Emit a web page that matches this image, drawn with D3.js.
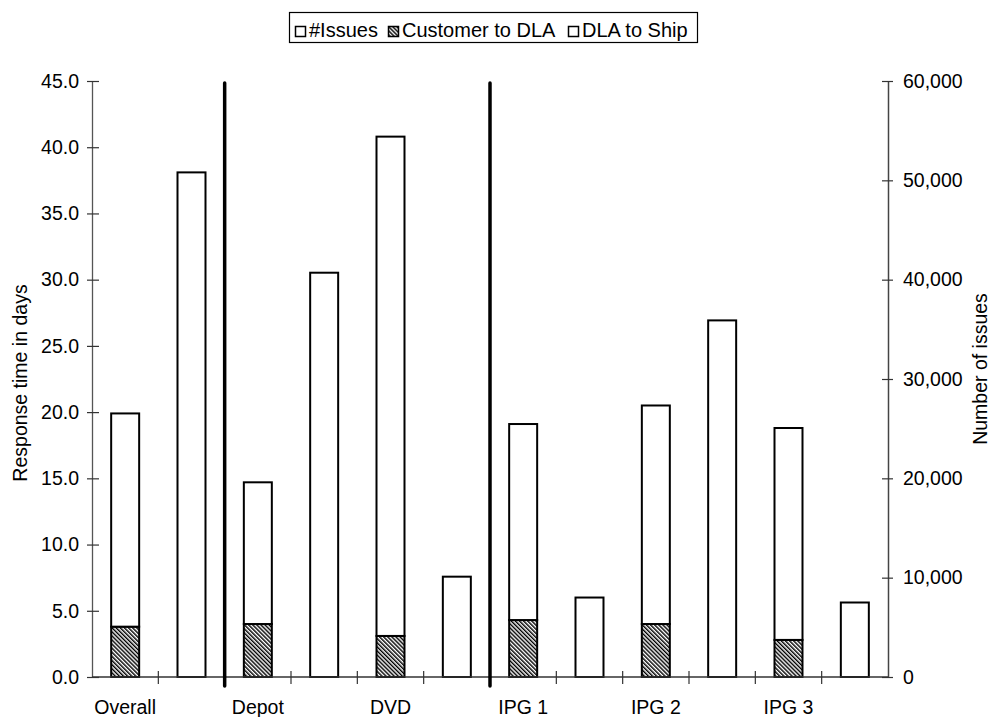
<!DOCTYPE html>
<html><head><meta charset="utf-8">
<script src="https://cdn.jsdelivr.net/npm/d3@7"></script>
<style>
body{margin:0;background:#fff}
svg{display:block}
text{font-family:"Liberation Sans",Arial,Helvetica,sans-serif;fill:#000}
</style>
</head><body>
<svg id="chart" width="990" height="717"></svg>
<script>
// ---- data ----
const categories = ["Overall", "Depot", "DVD", "IPG 1", "IPG 2", "IPG 3"];
const customerToDLA = [3.8, 4.0, 3.1, 4.3, 4.0, 2.8];
const dlaToShip = [16.1, 10.7, 37.7, 14.8, 16.5, 16.0];
const issues = [50800, 40700, 10100, 8000, 35900, 7500];
const leftTicks = [0, 5, 10, 15, 20, 25, 30, 35, 40, 45];
const rightTicks = [0, 10000, 20000, 30000, 40000, 50000, 60000];
const separatorsAfter = ["Overall", "DVD"];
const legendLabels = ["#Issues", "Customer to DLA", "DLA to Ship"];
const leftTitle = "Response time in days";
const rightTitle = "Number of issues";

// ---- layout ----
const svg = d3.select("#chart");
const L = 92, R = 888, T = 81, B = 677;

const slots = categories.flatMap(c => [c + "|rt", c + "|iss"]);
const pi = 0.578;
const x = d3.scaleBand().domain(slots).range([L, R]).paddingInner(pi).paddingOuter(pi / 2);
const yL = d3.scaleLinear().domain([0, 45]).range([B, T]);
const yR = d3.scaleLinear().domain([0, 60000]).range([B, T]);

// hatch pattern
const defs = svg.append("defs");
const pat = defs.append("pattern").attr("id", "hatch").attr("patternUnits", "userSpaceOnUse")
  .attr("width", 2.9).attr("height", 10).attr("patternTransform", "rotate(-45)");
pat.append("rect").attr("width", 2.9).attr("height", 10).attr("fill", "#fff");
pat.append("rect").attr("width", 1.45).attr("height", 10).attr("fill", "#000");

// stacked response-time bars
const rows = categories.map((c, i) => ({cat: c, customer: customerToDLA[i], ship: dlaToShip[i]}));
const stack = d3.stack().keys(["customer", "ship"])(rows);
const fills = {customer: "url(#hatch)", ship: "#fff"};
stack.forEach(layer => {
  svg.append("g").selectAll("rect").data(layer).join("rect")
    .attr("x", d => x(d.data.cat + "|rt"))
    .attr("width", x.bandwidth())
    .attr("y", d => yL(d[1]))
    .attr("height", d => yL(d[0]) - yL(d[1]))
    .attr("fill", fills[layer.key])
    .attr("stroke", "#000").attr("stroke-width", 2);
});

// issues bars (secondary axis)
svg.append("g").selectAll("rect").data(categories).join("rect")
  .attr("x", (c) => x(c + "|iss"))
  .attr("width", x.bandwidth())
  .attr("y", (c, i) => yR(issues[i]))
  .attr("height", (c, i) => yR(0) - yR(issues[i]))
  .attr("fill", "#fff").attr("stroke", "#000").attr("stroke-width", 2);

// left axis
const gL = svg.append("g").attr("transform", `translate(${L},0)`)
  .call(d3.axisLeft(yL).tickValues(leftTicks).tickFormat(d3.format(".1f"))
    .tickSize(5).tickPadding(8).tickSizeOuter(0));
gL.select(".domain").attr("stroke", "#555").attr("stroke-width", 1.3);
gL.selectAll(".tick line").attr("x1", 7).attr("stroke", "#333").attr("stroke-width", 1.2);
gL.selectAll(".tick text").attr("font-size", 19.5).style("font-family", '"Liberation Sans",Arial,sans-serif').attr("fill", "#000");

// right axis
const gR = svg.append("g").attr("transform", `translate(${R},0)`)
  .call(d3.axisRight(yR).tickValues(rightTicks).tickFormat(d3.format(","))
    .tickSize(5).tickPadding(10).tickSizeOuter(0));
gR.select(".domain").attr("stroke", "#444").attr("stroke-width", 1.5);
gR.selectAll(".tick line").attr("x1", -6).attr("stroke", "#333").attr("stroke-width", 1.2);
gR.selectAll(".tick text").attr("font-size", 19.5).style("font-family", '"Liberation Sans",Arial,sans-serif').attr("fill", "#000");

// category axis
const step = x.step();
const gX = svg.append("g");
gX.append("line").attr("x1", L).attr("x2", R).attr("y1", B).attr("y2", B)
  .attr("stroke", "#333").attr("stroke-width", 1.3);
d3.range(1, slots.length).forEach(i => {
  const bx = L + i * step;
  gX.append("line").attr("x1", bx).attr("x2", bx).attr("y1", B - 6).attr("y2", B + 7)
    .attr("stroke", "#333").attr("stroke-width", 1.2);
});
gX.selectAll("text.cat").data(categories).join("text").attr("class", "cat")
  .attr("x", c => x(c + "|rt") + x.bandwidth() / 2)
  .attr("y", 714)
  .attr("text-anchor", "middle").attr("font-size", 19.5)
  .text(c => c);

// separators
separatorsAfter.forEach(c => {
  const sx = x(c + "|iss") + x.bandwidth() + step * pi / 2;
  svg.append("line").attr("x1", sx).attr("x2", sx).attr("y1", T + 2).attr("y2", B + 9)
    .attr("stroke", "#000").attr("stroke-width", 3.5).attr("stroke-linecap", "round");
});

// axis titles
svg.append("text").attr("transform", "translate(27,383) rotate(-90)")
  .attr("text-anchor", "middle").attr("font-size", 19.5).text(leftTitle);
svg.append("text").attr("transform", "translate(987,369) rotate(-90)")
  .attr("text-anchor", "middle").attr("font-size", 19.5).text(rightTitle);

// legend
const lg = svg.append("g");
lg.append("rect").attr("x", 289.5).attr("y", 12.5).attr("width", 408).attr("height", 30)
  .attr("fill", "#fff").attr("stroke", "#000").attr("stroke-width", 1.2);
const legendX = [295, 388, 568];
const legendFill = ["#fff", "url(#hatch)", "#fff"];
legendLabels.forEach((lab, i) => {
  lg.append("rect").attr("x", legendX[i] + 0.5).attr("y", 26.5).attr("width", 10).attr("height", 10)
    .attr("fill", legendFill[i]).attr("stroke", "#000").attr("stroke-width", 1.5);
  lg.append("text").attr("x", legendX[i] + 14).attr("y", 37).attr("font-size", 20).text(lab);
});
</script>
</body></html>
